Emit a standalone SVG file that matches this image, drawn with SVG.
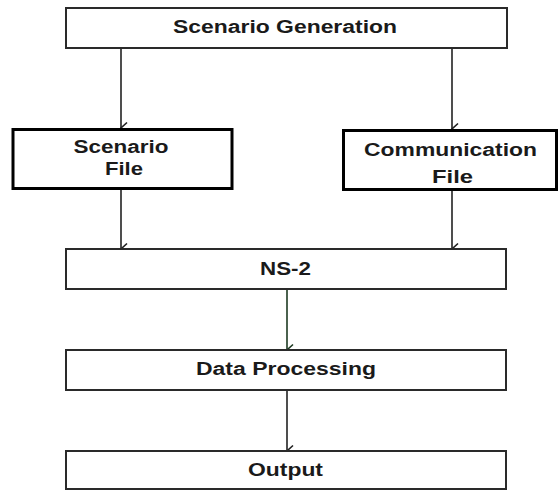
<svg xmlns="http://www.w3.org/2000/svg" width="559" height="491" viewBox="0 0 559 491">
<defs>
<style>
.box{fill:#fff;stroke:#2a2a2a;stroke-width:2}
.thick{fill:#fff;stroke:#000;stroke-width:3}
.t{font-family:"Liberation Sans",Arial,sans-serif;font-weight:bold;font-size:18px;fill:#1a1a1a;text-anchor:middle}
.c{fill:none;stroke:#222;stroke-width:1.6}
.g{fill:none;stroke:#1e3a22;stroke-width:1.6}
</style>
<marker id="ah" markerWidth="14" markerHeight="9" refX="7" refY="7.5" orient="auto" markerUnits="userSpaceOnUse" viewBox="0 0 14 9">
<path d="M1.5,1.5 L7,7.5 L12.5,1.5" fill="none" stroke="#222" stroke-width="1.6"/>
</marker>
<marker id="ahg" markerWidth="14" markerHeight="9" refX="7" refY="7.5" orient="auto" markerUnits="userSpaceOnUse" viewBox="0 0 14 9">
<path d="M1.5,1.5 L7,7.5 L12.5,1.5" fill="none" stroke="#1e3a22" stroke-width="1.6"/>
</marker>
</defs>
<rect width="559" height="491" fill="#fff"/>
<g id="connectors">
<line class="c" x1="121" y1="48" x2="121" y2="128" marker-end="url(#ah)"/>
<line class="c" x1="452" y1="48" x2="452" y2="129" marker-end="url(#ah)"/>
<line class="c" x1="121" y1="190" x2="121" y2="249" marker-end="url(#ah)"/>
<line class="c" x1="452" y1="191" x2="452" y2="249" marker-end="url(#ah)"/>
<line class="g" x1="287" y1="289" x2="287" y2="350" marker-end="url(#ahg)"/>
<line class="c" x1="287" y1="390" x2="287" y2="451" marker-end="url(#ah)"/>
</g>
<g id="scenario-generation">
<rect class="box" x="66" y="8" width="441" height="40"/>
<text class="t" x="285" y="33" textLength="224" lengthAdjust="spacingAndGlyphs">Scenario Generation</text>
</g>
<g id="scenario-file">
<rect class="thick" x="13" y="129.5" width="219" height="59"/>
<text class="t" x="121" y="153" textLength="95" lengthAdjust="spacingAndGlyphs">Scenario</text>
<text class="t" x="124" y="175" textLength="38" lengthAdjust="spacingAndGlyphs">File</text>
</g>
<g id="communication-file">
<rect class="thick" x="343.5" y="130.5" width="213" height="59"/>
<text class="t" x="450.5" y="155.5" textLength="173" lengthAdjust="spacingAndGlyphs">Communication</text>
<text class="t" x="452.5" y="183" textLength="41" lengthAdjust="spacingAndGlyphs">File</text>
</g>
<g id="ns2">
<rect class="box" x="66" y="249" width="440" height="40"/>
<text class="t" x="285.5" y="275" textLength="51" lengthAdjust="spacingAndGlyphs">NS-2</text>
</g>
<g id="data-processing">
<rect class="box" x="66" y="350" width="440" height="40"/>
<text class="t" x="286" y="375" textLength="180" lengthAdjust="spacingAndGlyphs">Data Processing</text>
</g>
<g id="output">
<rect class="box" x="66" y="451" width="440" height="38"/>
<text class="t" x="285.5" y="476" textLength="75" lengthAdjust="spacingAndGlyphs">Output</text>
</g>
</svg>
